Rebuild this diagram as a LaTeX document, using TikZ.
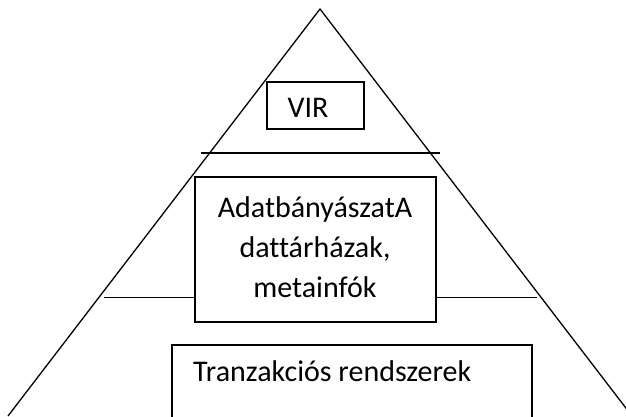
\documentclass[tikz,border=0pt]{standalone}
\usepackage{fontspec}
\setmainfont[Ligatures={NoCommon}]{Carlito}
\begin{document}
\begin{tikzpicture}[x=1pt,y=1pt,
  ln/.style={line width=1.3pt,line cap=butt},
  bx/.style={draw,line width=1.3pt,inner sep=0pt},
  txt/.style={inner sep=0pt,anchor=base,font=\fontsize{30}{36}\selectfont}]
\useasboundingbox (0,0) rectangle (626,416);
\clip (0,0) rectangle (626,416);
% pyramid
\coordinate (apex) at (320,407);
\coordinate (bl) at (8,0);
\coordinate (br) at (632,0);
\draw[ln,line join=miter] (bl) -- (apex) -- (br);
% level lines
\coordinate (t1) at (201,263);
\coordinate (t2) at (440,263);
\draw[ln] (t1) -- (t2);
% boxes
\node[bx,minimum width=97pt,minimum height=47pt] (vir) at (315.5,310.5) {};
\node[bx,minimum width=241pt,minimum height=145pt] (mid) at (315.5,166.5) {};
\node[bx,minimum width=360pt,minimum height=80pt] (bot) at (352,31) {};
\coordinate (m1) at (104,118.5);
\coordinate (m2) at (537,118.5);
\draw[ln] (m1) -- (mid.west |- m1);
\draw[ln] (mid.east |- m2) -- (m2);
% texts
\node[txt] (virt) at (308,299) {VIR};
\node[txt] (l1) at (315,199) {AdatbányászatA};
\node[txt] (l2) at (315,159) {dattárházak,};
\node[txt] (l3) at (315,119) {metainfók};
\node[txt,anchor=base west] (tr) at (193,35) {Tranzakciós rendszerek};
\end{tikzpicture}
\end{document}
